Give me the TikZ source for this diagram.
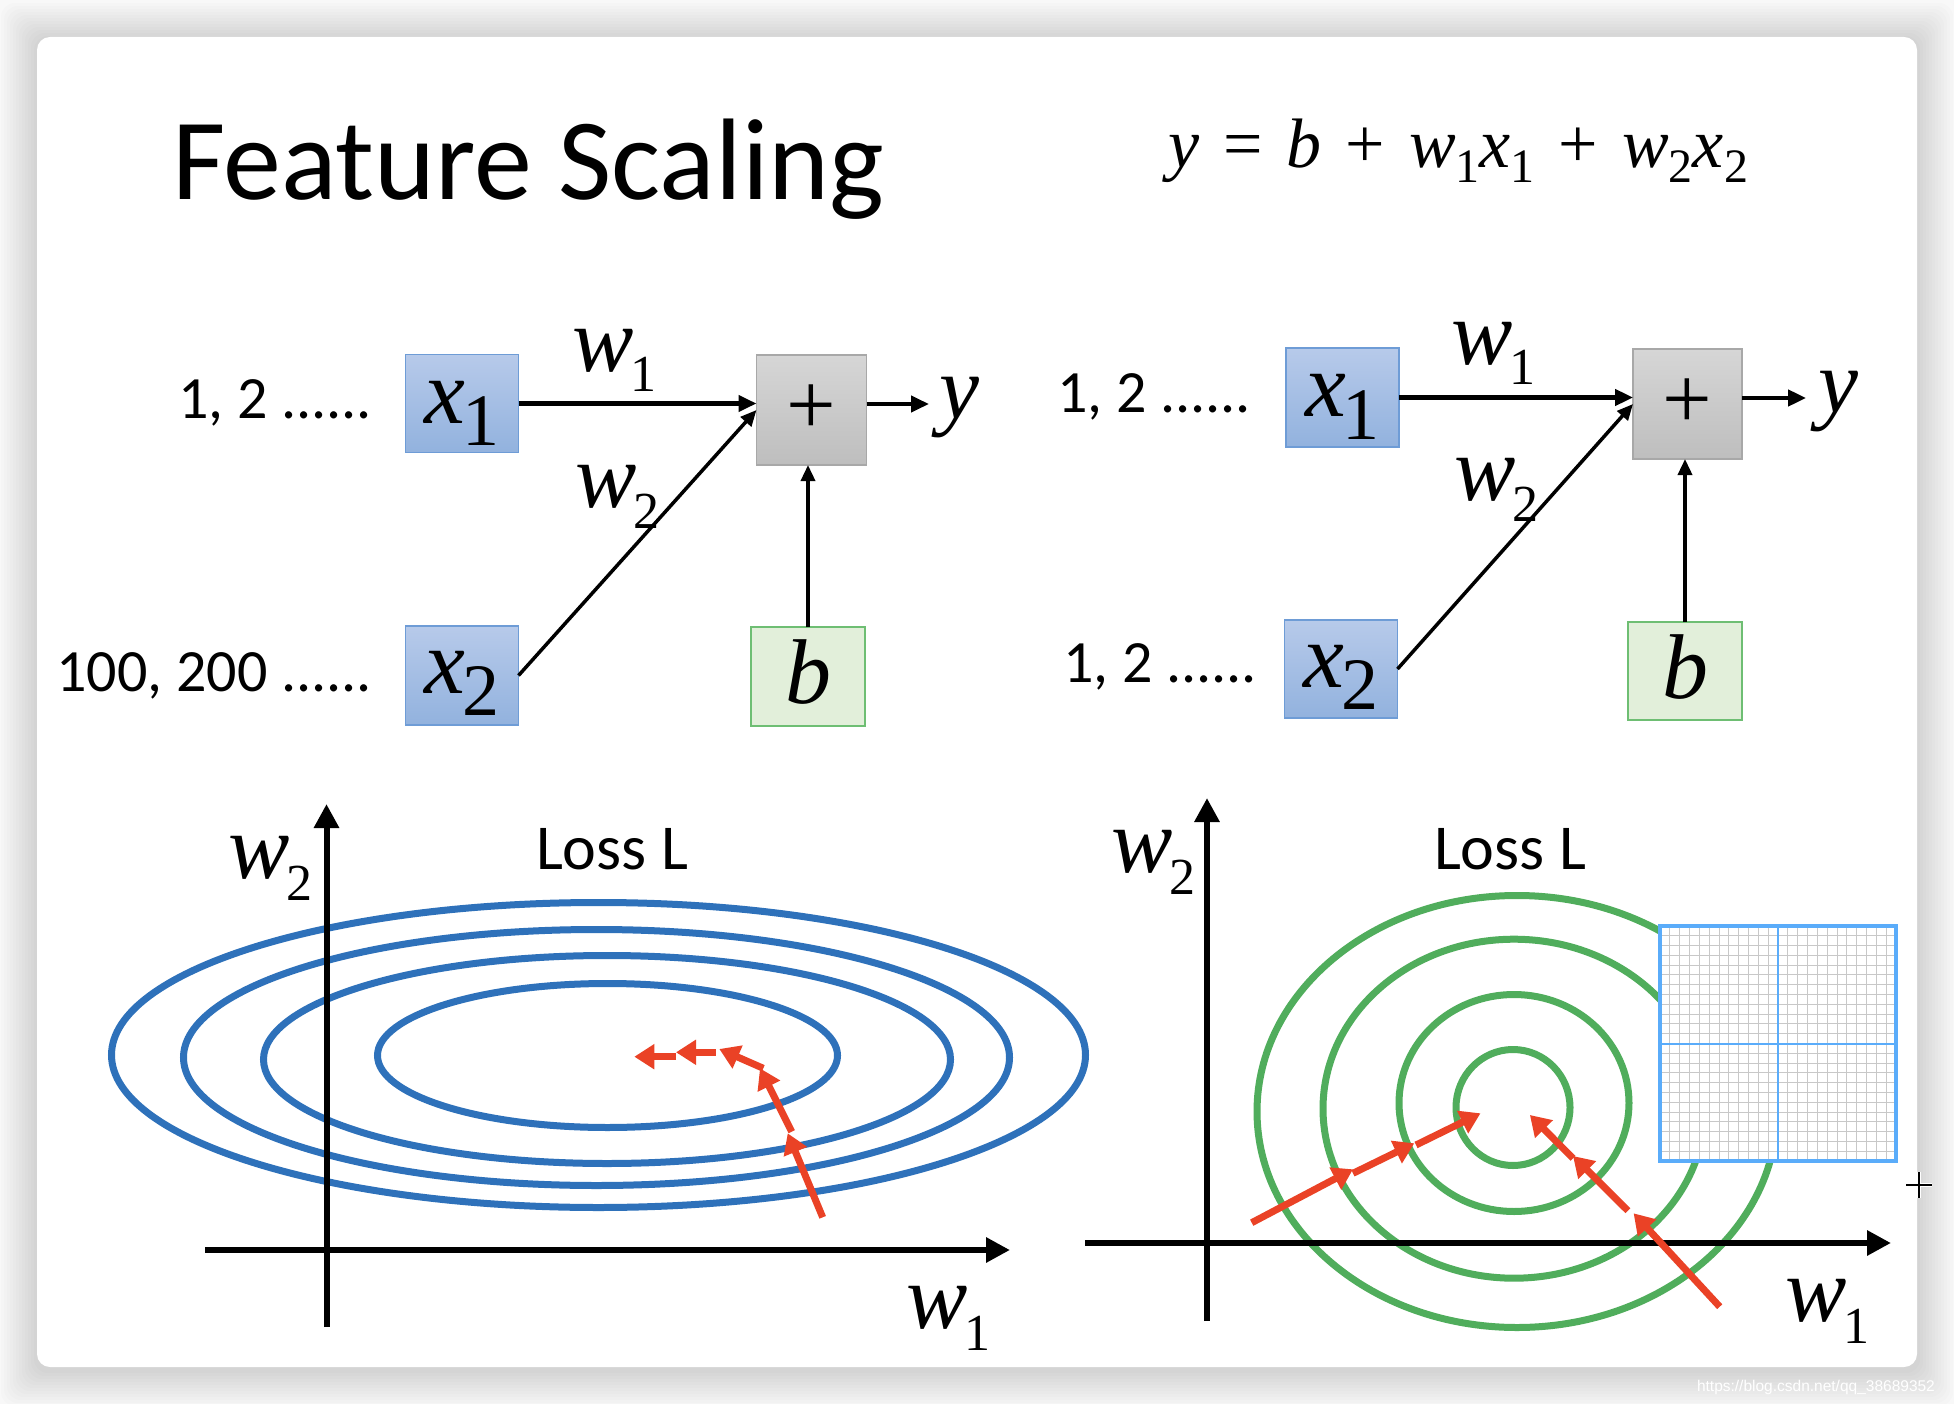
\documentclass[tikz,border=0pt]{standalone}
\usepackage{fontspec}
\setmainfont{Liberation Serif}
\newfontfamily\calfont{Carlito}
\newfontfamily\wmfont{Liberation Sans}
\usetikzlibrary{arrows.meta,calc}
\definecolor{xtop}{RGB}{183,202,234}
\definecolor{xbot}{RGB}{146,178,222}
\definecolor{xedge}{RGB}{110,156,214}
\definecolor{ptop}{RGB}{214,214,214}
\definecolor{pbot}{RGB}{190,190,190}
\definecolor{pedge}{RGB}{168,168,168}
\definecolor{gfill}{RGB}{226,239,218}
\definecolor{gedge}{RGB}{110,190,115}
\definecolor{ellblue}{RGB}{46,113,186}
\definecolor{ringgreen}{RGB}{80,173,92}
\definecolor{arrred}{RGB}{234,66,38}
\definecolor{gridblue}{RGB}{90,172,250}
\definecolor{gridgray}{RGB}{200,200,200}
\definecolor{pagebg}{RGB}{248,248,248}
% letter with subscript: letter, digit, main size, sub size, lowering
\newcommand\vlab[5]{{\fontsize{#3}{#3}\selectfont\itshape #1}\kern-3pt\raisebox{-#5pt}{\fontsize{#4}{#4}\selectfont #2}}
\newcommand\eqv[1]{{\itshape #1}}
\newcommand\eqs[1]{\raisebox{-15pt}{\fontsize{48}{48}\selectfont #1}}
\newcommand\eqgap{\hspace{24pt}}
\begin{document}
\begin{tikzpicture}[x=1pt,y=-1pt,
  every node/.style={inner sep=0pt,outer sep=0pt},
  xbox/.style={draw=xedge,line width=1.3pt,top color=xtop,bottom color=xbot,minimum width=113pt,minimum height=98pt},
  plusbox/.style={draw=pedge,line width=1.3pt,top color=ptop,bottom color=pbot,minimum width=110pt,minimum height=110pt},
  greenbox/.style={draw=gedge,line width=1.3pt,fill=gfill,minimum width=114pt,minimum height=98pt},
  conn/.style={draw,line width=4.5pt,-{Triangle[length=18pt,width=16pt]}},
  thinconn/.style={draw,line width=3.5pt,-{Triangle[length=16pt,width=14pt]}},
  numtxt/.style={font=\calfont\fontsize{60}{60}\selectfont,anchor=base east},
  losstxt/.style={font=\calfont\fontsize{64}{64}\selectfont,anchor=base west},
  ell/.style={draw=ellblue,line width=7pt},
  ring/.style={draw=ringgreen,line width=7pt},
  axis/.style={draw,line width=6pt,-{Triangle[length=24pt,width=24pt]}},
  gd/.style={draw=arrred,line width=7pt,-{Triangle[length=20pt,width=24pt]}}]
\useasboundingbox (0,0) rectangle (1954,1404);
% page and card
\fill[pagebg] (0,0) rectangle (1954,1404);
\foreach \i in {1,...,12}
  \fill[black,opacity=0.013,rounded corners=14pt] ({37-3*\i},{37-3*\i+2}) rectangle ({1917+3*\i},{1367+3*\i+3});
\fill[white,rounded corners=13pt] (37,37) rectangle (1917,1367);
\node[anchor=base west,font=\wmfont\fontsize{15.5}{16}\selectfont,text=white] (wm) at (1697,1391) {https://blog.csdn.net/qq\_38689352};

% title and equation
\node[anchor=base west,font=\calfont\fontsize{116}{116}\selectfont] (title) at (172,200) {Feature Scaling};
\node[anchor=base west,font=\fontsize{70}{70}\selectfont] (eq) at (1168,168)
  {\eqv{y}\eqgap=\eqgap\eqv{b}\eqgap+\eqgap\eqv{w}\eqs{1}\eqv{x}\eqs{1}\eqgap+\eqgap\eqv{w}\eqs{2}\eqv{x}\eqs{2}};

% ---------- left network ----------
\node[xbox] (x1L) at (462,403.5) {};
\node[xbox,minimum height=99pt] (x2L) at (462,675.5) {};
\node[plusbox] (plusL) at (811.5,410) {\fontsize{88}{88}\selectfont +};
\node[greenbox,minimum height=99pt] (bL) at (808,676.5) {};
\node[anchor=base] (x1Llab) at ($(x1L.center)+(0,19.5)$) {\vlab{x}{1}{92}{74}{22}};
\node[anchor=base] (x2Llab) at ($(x2L.center)+(0,18)$) {\vlab{x}{2}{92}{74}{22}};
\node[anchor=base] (bLlab) at (808,703) {\fontsize{92}{92}\selectfont\itshape b};
\node[anchor=base west] (w1L) at (572,372) {\vlab{w}{1}{92}{52}{20}};
\node[anchor=base west] (w2L) at (575,507) {\vlab{w}{2}{92}{52}{21}};
\coordinate (yLtip) at (929,404);
\node[anchor=base west] (yL) at (939,418) {\fontsize{90}{90}\selectfont\itshape y};
\node[numtxt] (n1L) at (372,418) {1, 2 ......};
\node[numtxt] (n2L) at (372,691) {100, 200 ......};
\draw[conn] (x1L.east) -- (x1L.east -| plusL.west);
\draw[thinconn] (x2L.east) -- (plusL.west);
\draw[thinconn] (bL.north) -- (bL.north |- plusL.south);
\draw[conn] (plusL.east |- yLtip) -- (yLtip);

% ---------- right network ----------
\node[xbox,minimum height=99pt] (x1R) at (1342.5,397.5) {};
\node[xbox] (x2R) at (1341,669) {};
\node[plusbox,minimum width=109pt] (plusR) at (1687.5,404) {\fontsize{88}{88}\selectfont +};
\node[greenbox] (bR) at (1685,671) {};
\node[anchor=base] (x1Rlab) at ($(x1R.center)+(0,19.5)$) {\vlab{x}{1}{92}{74}{22}};
\node[anchor=base] (x2Rlab) at ($(x2R.center)+(0,18)$) {\vlab{x}{2}{92}{74}{22}};
\node[anchor=base] (bRlab) at (1685,698) {\fontsize{92}{92}\selectfont\itshape b};
\node[anchor=base west] (w1R) at (1451,365) {\vlab{w}{1}{92}{52}{20}};
\node[anchor=base west] (w2R) at (1454,500) {\vlab{w}{2}{92}{52}{21}};
\coordinate (yRtip) at (1806,398);
\node[anchor=base west] (yR) at (1818,413) {\fontsize{90}{90}\selectfont\itshape y};
\node[numtxt] (n1R) at (1251,413) {1, 2 ......};
\node[numtxt] (n2R) at (1257,682) {1, 2 ......};
\draw[conn] (x1R.east) -- (x1R.east -| plusR.west);
\draw[thinconn] (x2R.east) -- (plusR.west);
\draw[thinconn] (bR.north) -- (bR.north |- plusR.south);
\draw[conn] (plusR.east |- yRtip) -- (yRtip);

% ---------- left loss plot ----------
\draw[ell] (598.5,1055) ellipse [x radius=487pt,y radius=152.5pt];
\draw[ell] (596.5,1057.5) ellipse [x radius=413pt,y radius=128pt];
\draw[ell] (607,1059.5) ellipse [x radius=343.5pt,y radius=104pt];
\draw[ell] (607.5,1055.5) ellipse [x radius=230pt,y radius=72pt];
\draw[axis] (326.5,1327) -- (326.5,804);
\draw[axis] (205,1250) -- (1010,1250);
\node[anchor=base west] (w2axL) at (228,878) {\vlab{w}{2}{92}{52}{22}};
\node[anchor=base west] (w1axL) at (906,1328) {\vlab{w}{1}{92}{52}{22}};
\node[losstxt] (lossL) at (536,869) {Loss L};
\coordinate (a0) at (822.7,1217.3);
\coordinate (a1) at (787.7,1133.3);
\coordinate (a1s) at (791.7,1131.7);
\coordinate (a2) at (760,1068.3);
\coordinate (a2s) at (763.3,1068.3);
\coordinate (a3) at (719.3,1049);
\coordinate (a3s) at (715.7,1052.3);
\coordinate (a4) at (676,1052.3);
\coordinate (a4s) at (676,1056.7);
\coordinate (a5) at (634.3,1056.7);
\draw[gd] (a0) -- (a1);
\draw[gd] (a1s) -- (a2);
\draw[gd] (a2s) -- (a3);
\draw[gd] (a3s) -- (a4);
\draw[gd] (a4s) -- (a5);

% ---------- right loss plot ----------
\draw[ring] (1513,1107.5) ellipse [x radius=57pt,y radius=58pt];
\draw[ring] (1514,1103) ellipse [x radius=115pt,y radius=108.5pt];
\draw[ring] (1514,1108.7) ellipse [x radius=191pt,y radius=169.5pt];
\draw[ring] (1517,1111.5) ellipse [x radius=260pt,y radius=216pt];
\draw[axis] (1207,1321) -- (1207,798);
\draw[axis] (1085,1243) -- (1891,1243);
\node[anchor=base west] (w2axR) at (1111,872) {\vlab{w}{2}{92}{52}{22}};
\node[anchor=base west] (w1axR) at (1785,1321) {\vlab{w}{1}{92}{52}{22}};
\node[losstxt] (lossR) at (1434,869) {Loss L};
% grid inset
\fill[white] (1660,926) rectangle (1896,1161);
\foreach \k in {1,...,23} {
  \draw[gridgray,line width=1pt] ({1660+\k*236/24},926) -- ({1660+\k*236/24},1161);
  \draw[gridgray,line width=1pt] (1660,{926+\k*235/24}) -- (1896,{926+\k*235/24});
}
\draw[gridblue,line width=2pt] (1778,926) -- (1778,1161);
\draw[gridblue,line width=2pt] (1660,1043.5) -- (1896,1043.5);
\draw[gridblue,line width=3.5pt] (1660,926) rectangle (1896,1161);
% gradient steps
\coordinate (b0) at (1251.7,1222.7);
\coordinate (b1) at (1353,1169.3);
\coordinate (b1s) at (1353,1173.3);
\coordinate (b2) at (1414.3,1143.3);
\coordinate (b2s) at (1416,1145);
\coordinate (b3) at (1480.5,1113.3);
\coordinate (c0) at (1719.7,1306.7);
\coordinate (c1) at (1633.6,1213.3);
\coordinate (c1s) at (1627.9,1210.7);
\coordinate (c2) at (1573,1156);
\coordinate (c2s) at (1573,1158.3);
\coordinate (c3) at (1529.9,1115);
\draw[gd] (b0) -- (b1);
\draw[gd] (b1s) -- (b2);
\draw[gd] (b2s) -- (b3);
\draw[gd] (c0) -- (c1);
\draw[gd] (c1s) -- (c2);
\draw[gd] (c2s) -- (c3);
% cursor cross
\draw[white,line width=4pt] (1906,1185) -- (1932,1185) (1919,1172) -- (1919,1198);
\draw[black,line width=1.6pt] (1906,1185) -- (1932,1185) (1919,1172) -- (1919,1198);
\end{tikzpicture}
\end{document}
